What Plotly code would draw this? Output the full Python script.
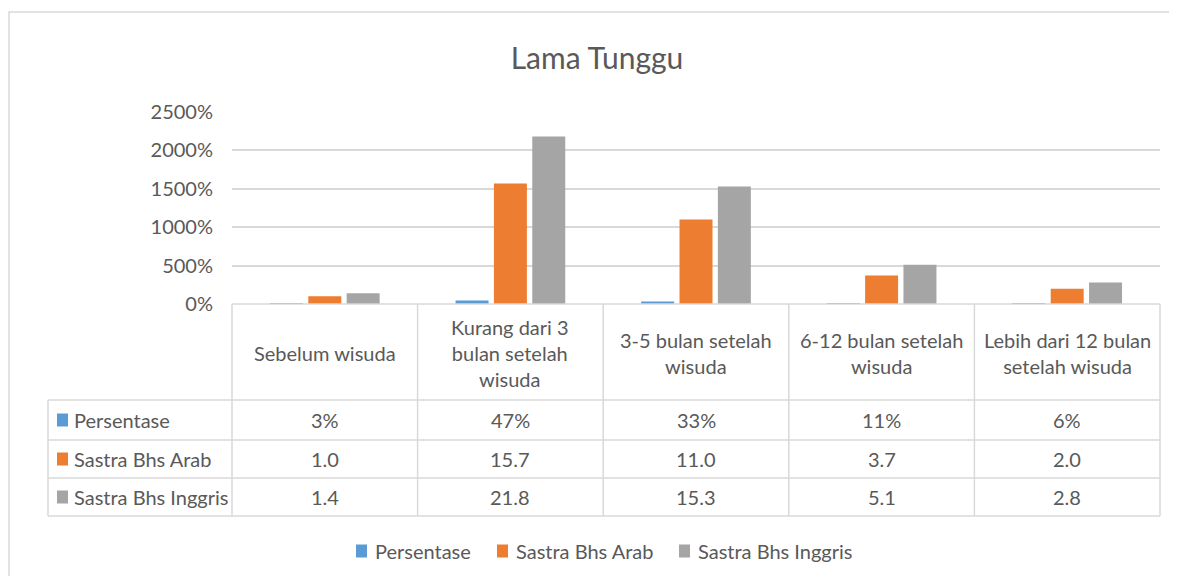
import plotly.graph_objects as go

# ── Data ───────────────────────────────────────────────
categories = [
    "Sebelum wisuda",
    "Kurang dari 3 bulan setelah wisuda",
    "3-5 bulan setelah wisuda",
    "6-12 bulan setelah wisuda",
    "Lebih dari 12 bulan setelah wisuda",
]
category_labels = [
    "Sebelum wisuda",
    "Kurang dari 3<br>bulan setelah<br>wisuda",
    "3-5 bulan setelah<br>wisuda",
    "6-12 bulan setelah<br>wisuda",
    "Lebih dari 12 bulan<br>setelah wisuda",
]
persentase = [0.03, 0.47, 0.33, 0.11, 0.06]
sastra_arab = [1.0, 15.7, 11.0, 3.7, 2.0]
sastra_inggris = [1.4, 21.8, 15.3, 5.1, 2.8]

series = [
    ("Persentase", persentase, "#5B9BD5", "{:.0%}"),
    ("Sastra Bhs Arab", sastra_arab, "#ED7D31", "{:.1f}"),
    ("Sastra Bhs Inggris", sastra_inggris, "#A5A5A5", "{:.1f}"),
]

# ── Geometry helpers (page pixel -> paper) ─────────────
OFF = 8                      # page body margin
W, H = 1177 - 2 * OFF, 584 - 2 * OFF
PL, PR, PT, PB = 232, 1160, 112, 304   # plot area, page pixels
FONT = "Lato"
FS = 20
TXT = "#595959"
GRID = "#d9d9d9"


def px(x):
    return (x - PL) / (PR - PL)


def py(y):
    return (PB - y) / (PB - PT)


fig = go.Figure()

for name, vals, color, _ in series:
    fig.add_trace(go.Bar(
        x=categories, y=vals, name=name,
        marker=dict(color=color, line=dict(width=0)),
        hoverinfo="skip", showlegend=False,
    ))

shapes = []
annotations = []


def hline(x0, x1, y):
    shapes.append(dict(type="line", xref="paper", yref="paper",
                       x0=px(x0), x1=px(x1), y0=py(y), y1=py(y),
                       line=dict(color=GRID, width=1.5)))


def vline(x, y0, y1):
    shapes.append(dict(type="line", xref="paper", yref="paper",
                       x0=px(x), x1=px(x), y0=py(y0), y1=py(y1),
                       line=dict(color=GRID, width=1.5)))


def key(x_sq, x_txt, yc, name, color):
    """Coloured square + label, like Excel legend keys."""
    shapes.append(dict(type="rect", xref="paper", yref="paper",
                       x0=px(x_sq), x1=px(x_sq + 11),
                       y0=py(yc - 6.5), y1=py(yc + 6.5),
                       fillcolor=color, line=dict(width=0)))
    annotations.append(dict(
        x=px(x_txt), xref="paper", y=py(yc), yref="paper",
        xanchor="left", yanchor="middle", text=name, showarrow=False,
        font=dict(family=FONT, size=FS, color=TXT)))


# outer chart border
shapes.append(dict(type="rect", xref="paper", yref="paper",
                   x0=px(9), x1=px(1200), y0=py(12), y1=py(620),
                   line=dict(color=GRID, width=1.5)))

# data table grid
col_edges = [PL + i * (PR - PL) / 5 for i in range(6)]
for xe in col_edges:
    vline(xe, 304, 516)
vline(48, 400, 516)
hline(PL, PR, 304)
for yl in [400, 440, 478, 516]:
    hline(48, PR, yl)

# category header cells
for cat, lab in zip(categories, category_labels):
    annotations.append(dict(x=cat, xref="x", y=py(353), yref="paper",
                            text=lab, showarrow=False, yanchor="middle",
                            font=dict(family=FONT, size=FS, color=TXT)))

# table rows
row_centers = [420, 459, 497]
for (name, vals, color, fmt), yc in zip(series, row_centers):
    key(57, 72, yc, name, color)
    for cat, v in zip(categories, vals):
        annotations.append(dict(x=cat, xref="x", y=py(yc), yref="paper",
                                yanchor="middle", text=fmt.format(v),
                                showarrow=False,
                                font=dict(family=FONT, size=FS, color=TXT)))

# legend row
legend_sq = [356, 497, 679]
for (name, vals, color, fmt), lx in zip(series, legend_sq):
    key(lx, lx + 17, 551, name, color)

fig.update_layout(
    width=W, height=H,
    margin=dict(l=PL - OFF, r=W - (PR - OFF), t=PT - OFF, b=H - (PB - OFF)),
    paper_bgcolor="white", plot_bgcolor="white",
    title=dict(text="Lama Tunggu", x=(597 - OFF) / W, xanchor="center",
               y=1 - (58 - OFF) / H, yanchor="middle",
               font=dict(family=FONT, size=30, color=TXT)),
    barmode="group", bargap=0.38, bargroupgap=0.14,
    showlegend=False,
    xaxis=dict(showticklabels=False, showgrid=False, zeroline=False,
               showline=False, fixedrange=True),
    yaxis=dict(range=[0, 25], dtick=5, tickformat=".0%",
               showgrid=True, gridcolor=GRID, gridwidth=1.5,
               zeroline=False, showline=False, ticks="", ticklen=0,
               ticklabelstandoff=18,
               tickfont=dict(family=FONT, size=FS, color=TXT)),
    shapes=shapes, annotations=annotations,
)

fig.write_html("out.html")
